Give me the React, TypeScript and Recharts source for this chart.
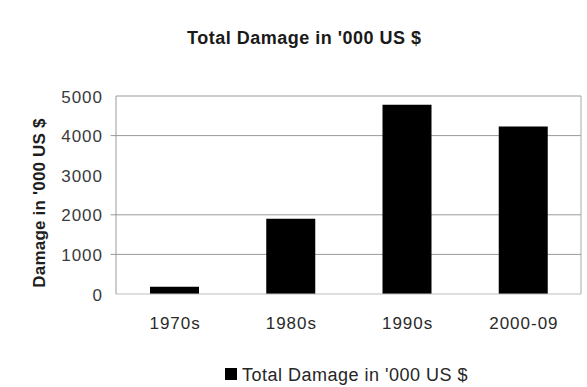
import React from "react";
import { BarChart, Bar, XAxis, YAxis, CartesianGrid, Legend } from "recharts";

// Decades and total damage per decade (thousand US $)
const decades = ["1970s", "1980s", "1990s", "2000-09"];
const damageValues = [180, 1900, 4780, 4230];
const yTicks = [0, 1000, 2000, 3000, 4000, 5000];
const gridValues = [1000, 2000, 4000, 5000];

const seriesName = "Total Damage in '000 US $";
const chartTitle = "Total Damage in '000 US $";
const yAxisTitle = "Damage in '000 US $";

const data = decades.map((d, i) => ({ decade: d, damage: damageValues[i] }));

const FONT = "'Liberation Sans', Arial, sans-serif";

const YTick = (props: any) => {
  const { x, y, payload } = props;
  const v = payload.value;
  return (
    <g>
      {gridValues.includes(v) && v !== 5000 && (
        <line x1={x + 2.5} x2={x + 8.5} y1={y} y2={y} stroke="#9a9a9a" strokeWidth={1} />
      )}
      <text
        x={x - 5}
        y={y + 1}
        textAnchor="end"
        dominantBaseline="central"
        fontFamily={FONT}
        fontSize={17}
        letterSpacing={1}
        fill="#3a3a3a"
      >
        {v}
      </text>
    </g>
  );
};

const XTick = (props: any) => {
  const { x, y, payload } = props;
  return (
    <text
      x={x + 1}
      y={y + 29}
      textAnchor="middle"
      dominantBaseline="central"
      fontFamily={FONT}
      fontSize={17}
      letterSpacing={1}
      fill="#2a2a2a"
    >
      {payload.value}
    </text>
  );
};

const YLabel = (props: any) => {
  const { viewBox } = props;
  const cx = viewBox.x + 39;
  const cy = viewBox.y + viewBox.height / 2 + 8;
  return (
    <text
      x={cx}
      y={cy}
      transform={`rotate(-90, ${cx}, ${cy})`}
      textAnchor="middle"
      dominantBaseline="central"
      fontFamily={FONT}
      fontWeight="bold"
      fontSize={17}
      letterSpacing={0.2}
      fill="#1e1e1e"
    >
      {yAxisTitle}
    </text>
  );
};

const LegendContent = (props: any) => {
  const items = props.payload || [];
  return (
    <div style={{ position: "relative", height: 24, width: 587 }}>
      {items.map((it: any) => (
        <div key={it.value}>
          <div
            style={{
              position: "absolute",
              left: 225,
              top: 5,
              width: 12,
              height: 12,
              background: it.color,
            }}
          />
          <div
            style={{
              position: "absolute",
              left: 242,
              top: 2,
              fontFamily: FONT,
              fontSize: 18,
              lineHeight: "20px",
              letterSpacing: 0.5,
              color: "#262626",
              whiteSpace: "nowrap",
            }}
          >
            {it.value}
          </div>
        </div>
      ))}
    </div>
  );
};

export default function App() {
  return (
    <div
      style={{
        position: "absolute",
        left: 0,
        top: 0,
        width: 587,
        height: 387,
        background: "#fff",
      }}
    >
      <div
        style={{
          position: "absolute",
          left: 187,
          top: 29,
          fontFamily: FONT,
          fontWeight: "bold",
          fontSize: 18,
          lineHeight: "18px",
          letterSpacing: 0.5,
          color: "#1a1a1a",
          whiteSpace: "nowrap",
        }}
      >
        {chartTitle}
      </div>
      <BarChart
        width={587}
        height={387}
        data={data}
        margin={{ top: 96, right: 0, left: 0, bottom: 0 }}
        barCategoryGap="0%"
      >
        <CartesianGrid
          horizontal
          vertical={false}
          horizontalValues={gridValues}
          stroke="#9a9a9a"
          strokeWidth={1}
        />
        <XAxis
          dataKey="decade"
          height={69}
          tickLine={false}
          tickSize={0}
          tickMargin={0}
          axisLine={{ stroke: "#bdbdbd" }}
          tick={<XTick />}
          interval={0}
        />
        <YAxis
          width={116}
          domain={[0, 5000]}
          ticks={yTicks}
          interval={0}
          tickLine={false}
          axisLine={{ stroke: "#9a9a9a" }}
          tick={<YTick />}
          label={<YLabel />}
        />
        <YAxis
          yAxisId="frame"
          orientation="right"
          width={6}
          domain={[0, 5000]}
          tick={false}
          tickLine={false}
          axisLine={{ stroke: "#a8a8a8" }}
        />
        <Legend
          verticalAlign="bottom"
          align="left"
          wrapperStyle={{ left: 0, width: 587, height: 24 }}
          content={<LegendContent />}
        />
        <Bar
          dataKey="damage"
          name={seriesName}
          fill="#000000"
          barSize={49}
          isAnimationActive={false}
        />
      </BarChart>
    </div>
  );
}
